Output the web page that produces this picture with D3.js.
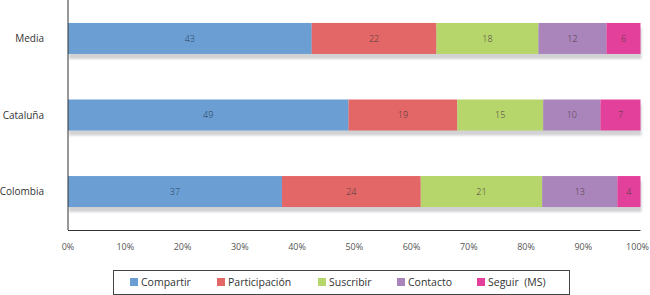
<!DOCTYPE html>
<html>
<head>
<meta charset="utf-8">
<script src="https://cdn.jsdelivr.net/npm/d3@7"></script>
<style>
  body { margin: 0; background: #fff; }
  svg text { font-family: "Open Sans", "Noto Sans", sans-serif; }
</style>
</head>
<body>
<div id="chart"></div>
<script>
// data
const categories = ["Media", "Cataluña", "Colombia"];
const seriesNames = ["Compartir", "Participación", "Suscribir", "Contacto", "Seguir  (MS)"];
const seriesColours = ["#6b9fd3", "#e46767", "#b6d66c", "#a985bc", "#e3409b"];
const compartir = [43, 49, 37];
const participacion = [22, 19, 24];
const suscribir = [18, 15, 21];
const contacto = [12, 10, 13];
const seguir = [6, 7, 4];
const tickLabels = ["0%", "10%", "20%", "30%", "40%", "50%", "60%", "70%", "80%", "90%", "100%"];

const values = [compartir, participacion, suscribir, contacto, seguir];
const rows = categories.map((c, i) => {
    const o = { cat: c };
    seriesNames.forEach((s, j) => o[s] = values[j][i]);
    return o;
});

const W = 650, H = 295;
const margin = { top: 0, right: 10, bottom: 65, left: 68 };

const svg = d3.select("#chart").append("svg")
    .attr("width", W)
    .attr("height", H);

const defs = svg.append("defs");
defs.append("filter").attr("id", "blur")
    .append("feGaussianBlur").attr("stdDeviation", 1.2);

// x scale: share 0..1 over plot width
const x = d3.scaleLinear()
    .domain([0, 1])
    .range([margin.left, 640.5]);

const y = d3.scaleBand()
    .domain(categories)
    .range([0, 230])
    .paddingInner(0.595)
    .paddingOuter(0.3);

const stack = d3.stack().keys(seriesNames)
    .offset(d3.stackOffsetExpand);
const stacked = stack(rows);

// shadows
svg.append("g")
    .selectAll("rect")
    .data(rows)
    .join("rect")
    .attr("x", x(0) + 1)
    .attr("y", d => y(d.cat) + 5)
    .attr("width", x(1) - x(0))
    .attr("height", y.bandwidth())
    .attr("fill", "#d2d2d5")
    .attr("filter", "url(#blur)");

// bars
const colour = d3.scaleOrdinal().domain(seriesNames).range(seriesColours);
const layers = svg.append("g")
    .selectAll("g")
    .data(stacked)
    .join("g")
    .attr("fill", d => colour(d.key));

layers.selectAll("rect")
    .data(d => d.map(p => ({ p: p, key: d.key })))
    .join("rect")
    .attr("x", d => x(d.p[0]))
    .attr("y", d => y(d.p.data.cat))
    .attr("width", d => x(d.p[1]) - x(d.p[0]))
    .attr("height", y.bandwidth());

layers.selectAll("text")
    .data(d => d.map(p => ({ p: p, key: d.key })))
    .join("text")
    .attr("x", d => (x(d.p[0]) + x(d.p[1])) / 2)
    .attr("y", d => y(d.p.data.cat) + y.bandwidth() / 2)
    .attr("dy", "0.35em")
    .attr("text-anchor", "middle")
    .attr("font-size", 9)
    .attr("font-weight", 300)
    .attr("fill", d => d.key === "Compartir" ? "#2a4060" : "#4d3d3d")
    .text(d => d.p.data[d.key]);

// axis lines
svg.append("line")
    .attr("x1", x(0)).attr("x2", x(0))
    .attr("y1", 0).attr("y2", 230)
    .attr("stroke", "#333").attr("stroke-width", 1);
svg.append("line")
    .attr("x1", x(0)).attr("x2", x(1))
    .attr("y1", 230.5).attr("y2", 230.5)
    .attr("stroke", "#333").attr("stroke-width", 1);

// category labels
svg.append("g")
    .selectAll("text")
    .data(categories)
    .join("text")
    .attr("x", 44)
    .attr("y", d => y(d) + y.bandwidth() / 2)
    .attr("dy", "0.35em")
    .attr("text-anchor", "end")
    .attr("font-size", 10)
    .attr("fill", "#333")
    .text(d => d);

// x tick labels
svg.append("g")
    .selectAll("text")
    .data(tickLabels)
    .join("text")
    .attr("x", (d, i) => i === 10 ? 649 : x(i / 10))
    .attr("y", 247)
    .attr("dy", "0.35em")
    .attr("text-anchor", (d, i) => i === 10 ? "end" : "middle")
    .attr("font-size", 9)
    .attr("fill", "#555")
    .text(d => d);

// legend
const legend = svg.append("g");
legend.append("rect")
    .attr("x", 113.5).attr("y", 270.5)
    .attr("width", 456).attr("height", 24)
    .attr("fill", "#fff").attr("stroke", "#444");

const legendX = [130, 217, 318, 397, 477];
const items = legend.selectAll("g.item")
    .data(seriesNames)
    .join("g")
    .attr("class", "item")
    .attr("transform", (d, i) => `translate(${legendX[i]},282)`);
items.append("rect")
    .attr("x", 0).attr("y", -4)
    .attr("width", 8).attr("height", 8)
    .attr("fill", d => colour(d));
items.append("text")
    .attr("x", 11)
    .attr("y", 0)
    .attr("dy", "0.35em")
    .attr("font-size", 10.5)
    .attr("fill", "#333")
    .style("white-space", "pre")
    .text(d => d);
</script>
</body>
</html>
